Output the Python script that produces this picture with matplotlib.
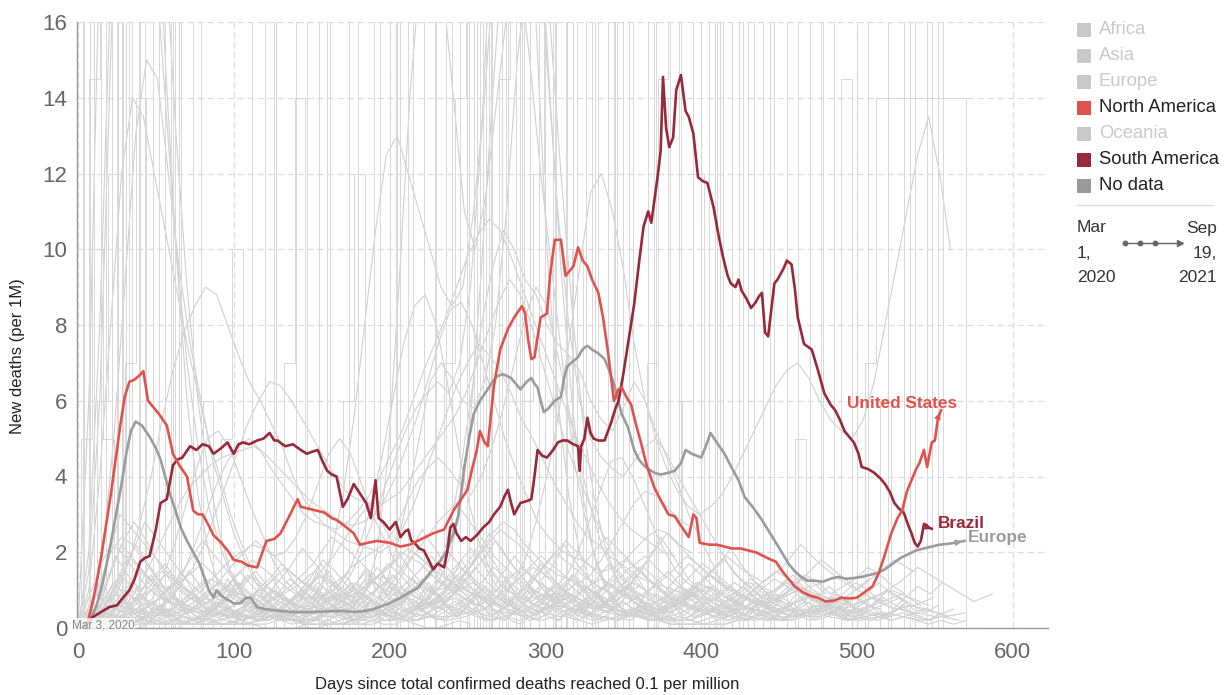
import numpy as np
import matplotlib
matplotlib.use("Agg")
import matplotlib.pyplot as plt
from matplotlib.patches import Rectangle
from matplotlib.lines import Line2D

plt.rcParams['font.family'] = ['Liberation Sans', 'DejaVu Sans']

# highlighted series
us_days = [3, 6, 9, 12, 15, 18, 21, 24, 27, 30, 33, 36, 39, 42, 45, 48, 52, 57, 61, 65, 70, 74, 77, 80, 84, 87,
           92, 96, 100, 105, 109, 115, 118, 121, 126, 130, 135, 141, 143, 148, 153, 158, 163, 166, 171, 177, 181,
           186, 192, 200, 207, 213, 218, 223, 228, 235, 241, 246, 250, 253, 256, 258, 261, 263, 265, 267, 271,
           276, 280, 285, 287, 289, 291, 293, 297, 301, 303, 306, 310, 313, 316, 318, 321, 324, 327, 330, 334,
           337, 340, 344, 347, 349, 352, 355, 358, 361, 365, 370, 375, 379, 383, 387, 392, 395, 397, 399, 405,
           410, 415, 420, 425, 430, 435, 440, 445, 448, 452, 456, 460, 465, 470, 475, 480, 485, 490, 495, 500,
           505, 510, 514, 518, 522, 526, 529, 532, 535, 538, 540, 543, 545, 548, 550, 552, 554]
us_vals = [0, 0.1, 0.6, 1.2, 1.9, 2.7, 3.5, 4.4, 5.3, 6.1, 6.5, 6.55, 6.65, 6.78, 6.0, 5.85, 5.65, 5.35, 4.6, 4.3,
           4.0, 3.1, 3.0, 3.0, 2.7, 2.45, 2.25, 2.05, 1.8, 1.75, 1.65, 1.6, 1.95, 2.3, 2.35, 2.5, 2.9, 3.4, 3.2,
           3.15, 3.1, 3.05, 2.9, 2.85, 2.7, 2.5, 2.2, 2.25, 2.3, 2.25, 2.15, 2.2, 2.3, 2.4, 2.5, 2.6, 3.1, 3.4,
           3.65, 4.2, 4.7, 5.2, 4.9, 4.8, 5.6, 6.4, 7.35, 7.9, 8.2, 8.5, 8.3, 7.6, 7.1, 7.15, 8.2, 8.3, 9.3,
           10.25, 10.25, 9.3, 9.45, 9.55, 10.05, 9.7, 9.55, 9.2, 8.85, 8.2, 7.35, 6.0, 6.3, 6.35, 6.1, 5.9, 5.4,
           4.95, 4.3, 3.7, 3.3, 3.0, 2.95, 2.7, 2.4, 3.0, 2.9, 2.25, 2.2, 2.2, 2.15, 2.1, 2.1, 2.05, 2.0, 1.9,
           1.8, 1.75, 1.5, 1.3, 1.1, 0.95, 0.85, 0.8, 0.7, 0.72, 0.8, 0.78, 0.8, 0.95, 1.1, 1.45, 1.95, 2.5, 2.9,
           3.1, 3.6, 3.9, 4.2, 4.35, 4.7, 4.25, 4.9, 4.95, 5.55, 5.75]

brazil_days = [3, 8, 14, 20, 25, 29, 33, 36, 40, 43, 46, 50, 53, 57, 61, 64, 67, 72, 76, 80, 84, 87, 92, 96, 100,
               103, 106, 110, 115, 119, 123, 126, 128, 133, 138, 143, 147, 150, 154, 157, 160, 163, 166, 168, 170,
               173, 177, 181, 185, 188, 191, 193, 196, 200, 204, 207, 210, 212, 214, 216, 219, 222, 225, 228, 231,
               235, 237, 239, 241, 243, 246, 249, 252, 256, 260, 264, 267, 271, 274, 276, 278, 280, 284, 288, 291,
               293, 295, 298, 301, 305, 308, 311, 314, 318, 321, 322, 323, 325, 327, 329, 331, 334, 338, 342, 345,
               347, 350, 353, 357, 360, 363, 366, 367, 368, 370, 372, 374, 375.5, 377.5, 379.5, 382, 384, 387, 390,
               392, 395, 398, 401, 404, 408, 411, 414, 417, 419, 422, 424, 426, 429, 432, 435, 437, 439, 441, 443,
               445, 447, 449, 451, 453, 455, 458, 460, 462, 466, 471, 475, 479, 483, 486, 489, 492, 495, 498, 501,
               503, 507, 511, 515, 518, 521, 524, 527, 530, 533, 535, 537, 539, 541, 543, 546, 548]
brazil_vals = [0, 0.25, 0.4, 0.55, 0.6, 0.8, 1.0, 1.25, 1.75, 1.85, 1.9, 2.6, 3.3, 3.4, 4.3, 4.45, 4.5, 4.8, 4.7,
               4.85, 4.8, 4.6, 4.75, 4.9, 4.6, 4.85, 4.9, 4.85, 4.95, 5.0, 5.15, 4.95, 4.95, 4.8, 4.85, 4.7, 4.6,
               4.65, 4.7, 4.4, 4.15, 4.05, 4.0, 3.6, 3.2, 3.4, 3.8, 3.55, 3.3, 2.9, 3.9, 2.9, 2.8, 2.6, 2.8, 2.4,
               2.55, 2.6, 2.3, 2.25, 2.1, 2.05, 1.8, 1.55, 1.7, 1.6, 2.0, 2.65, 2.75, 2.5, 2.3, 2.4, 2.3, 2.45,
               2.65, 2.8, 3.0, 3.2, 3.5, 3.65, 3.3, 3.0, 3.3, 3.35, 3.4, 4.0, 4.7, 4.55, 4.5, 4.7, 4.9, 4.95, 4.95,
               4.85, 4.8, 4.15, 4.8, 5.0, 5.55, 5.15, 5.0, 4.95, 4.95, 5.4, 5.8, 6.0, 6.7, 7.5, 8.55, 9.6, 10.6,
               11.0, 10.85, 10.7, 11.3, 11.9, 12.6, 14.55, 13.2, 12.7, 12.95, 14.2, 14.6, 13.65, 13.5, 13.05, 11.9,
               11.8, 11.75, 11.1, 10.4, 9.8, 9.3, 9.1, 9.0, 9.2, 8.9, 8.7, 8.45, 8.6, 8.75, 8.85, 7.8, 7.7, 8.4,
               9.1, 9.2, 9.35, 9.5, 9.7, 9.6, 9.0, 8.2, 7.5, 7.35, 6.8, 6.2, 5.9, 5.75, 5.5, 5.2, 5.05, 4.9, 4.6,
               4.25, 4.2, 4.1, 3.95, 3.8, 3.6, 3.3, 3.15, 3.05, 2.7, 2.5, 2.25, 2.15, 2.3, 2.75, 2.65, 2.62]

europe_days = [3, 8, 12, 16, 20, 24, 28, 31, 34, 37, 41, 46, 50, 53, 56, 59, 63, 66, 70, 74, 78, 81, 84, 87, 89,
               92, 96, 100, 104, 108, 111, 115, 120, 130, 138, 150, 160, 170, 177, 184, 190, 195, 200, 207, 213,
               218, 222, 228, 233, 237, 241, 244, 248, 251, 254, 258, 263, 266, 269, 273, 278, 281, 284, 288, 291,
               293, 295, 297, 299, 302, 306, 310, 312, 314, 318, 321, 323, 325, 327, 330, 334, 338, 341, 344, 349,
               353, 357, 360, 363, 366, 370, 374, 379, 383, 387, 390, 394, 397, 400, 403, 406, 410, 415, 420, 424,
               428, 433, 439, 445, 451, 456, 460, 464, 468, 473, 478, 483, 488, 493, 498, 503, 508, 513, 518, 523,
               528, 533, 538, 543, 548, 553, 558, 563, 569]
europe_vals = [0, 0.2, 0.6, 1.2, 2.0, 2.9, 3.8, 4.6, 5.2, 5.45, 5.35, 5.05, 4.75, 4.45, 4.0, 3.55, 3.05, 2.65, 2.3,
               2.0, 1.7, 1.35, 1.0, 0.8, 1.0, 0.85, 0.75, 0.65, 0.65, 0.8, 0.8, 0.55, 0.5, 0.45, 0.42, 0.42, 0.44,
               0.45, 0.42, 0.45, 0.5, 0.58, 0.65, 0.8, 0.95, 1.05, 1.25, 1.55, 1.8, 2.05, 2.5, 2.95, 4.25, 5.0,
               5.65, 6.0, 6.3, 6.5, 6.65, 6.7, 6.6, 6.45, 6.3, 6.5, 6.6, 6.45, 6.35, 6.0, 5.7, 5.8, 6.0, 6.1, 6.6,
               6.9, 7.05, 7.15, 7.3, 7.4, 7.45, 7.35, 7.25, 7.1, 6.8, 6.45, 5.65, 5.3, 4.7, 4.45, 4.3, 4.2, 4.1,
               4.05, 4.1, 4.15, 4.35, 4.7, 4.6, 4.55, 4.5, 4.8, 5.15, 4.9, 4.6, 4.2, 3.9, 3.45, 3.2, 2.85, 2.45,
               2.05, 1.7, 1.5, 1.35, 1.25, 1.25, 1.22, 1.3, 1.35, 1.3, 1.32, 1.35, 1.4, 1.45, 1.55, 1.7, 1.85,
               1.95, 2.05, 2.1, 2.15, 2.2, 2.22, 2.25, 2.3]

# other countries, low lines sampled every 12 days (values per 1M)
BAND_STEP = 12
band_starts = [0, 4, 2, 7, 1, 5, 3, 9, 6, 10, 8, 11]
band_lines = [
    [0.0, 0.4, 1.1, 0.8, 0.5, 0.3, 0.4, 0.7, 1.0, 0.6, 0.4, 0.5, 0.9, 1.4, 1.1, 0.7, 0.5, 0.8, 1.2, 0.9, 1.5, 2.1,
     1.6, 1.0, 0.7, 0.5, 0.6, 1.0, 1.3, 0.9, 0.6, 0.4, 0.7, 1.1, 0.8, 0.5, 0.3, 0.4, 0.6, 0.9, 0.7, 0.5, 0.4, 0.6,
     0.8, 0.5, 0.4],
    [0.0, 0.9, 2.2, 1.6, 1.0, 0.7, 0.5, 0.8, 1.3, 1.8, 1.4, 1.0, 0.7, 0.4, 0.6, 1.0, 1.5, 2.0, 1.7, 1.2, 0.9, 0.6,
     0.8, 1.2, 1.6, 1.3, 0.9, 0.6, 1.0, 1.5, 1.9, 1.4, 1.0, 0.7, 0.5, 0.7, 1.1, 1.5, 1.2, 0.8, 0.6, 0.9, 1.3],
    [0.0, 0.1, 0.3, 0.2, 0.4, 0.2, 0.1, 0.3, 0.5, 0.3, 0.2, 0.4, 0.6, 0.5, 0.3, 0.2, 0.4, 0.7, 0.5, 0.3, 0.6, 0.9,
     0.7, 0.4, 0.3, 0.5, 0.8, 1.1, 0.8, 0.5, 0.3, 0.2, 0.4, 0.6, 0.4, 0.3, 0.2, 0.3, 0.5, 0.4, 0.3, 0.2, 0.3, 0.4,
     0.3, 0.2, 0.3, 0.2],
    [0.0, 0.5, 1.6, 2.8, 2.1, 1.4, 0.9, 0.6, 0.4, 0.5, 0.8, 1.2, 1.7, 2.4, 2.0, 1.5, 1.1, 0.8, 0.6, 0.9, 1.4, 2.0,
     2.6, 2.2, 1.6, 1.1, 0.8, 0.6, 0.5, 0.7, 1.0, 1.4, 1.9, 1.5, 1.1, 0.8, 0.6, 0.5, 0.7, 0.9, 0.7, 0.5],
    [0.0, 0.2, 0.6, 0.4, 0.3, 0.5, 0.9, 1.3, 1.0, 0.8, 1.1, 1.6, 1.2, 0.9, 0.7, 1.0, 1.4, 1.1, 0.8, 0.6, 0.9, 1.2,
     0.9, 0.7, 1.1, 1.7, 2.3, 1.8, 1.3, 0.9, 0.6, 0.5, 0.8, 1.2, 1.0, 0.7, 0.5, 0.4, 0.6, 0.8, 0.6, 0.4, 0.5, 0.7,
     0.9, 0.6],
    [0.0, 0.3, 0.2, 0.5, 0.8, 0.6, 0.3, 0.2, 0.3, 0.6, 1.0, 0.7, 0.4, 0.3, 0.5, 0.4, 0.2, 0.3, 0.6, 1.1, 1.6, 1.2,
     0.8, 0.5, 0.4, 0.6, 0.9, 0.6, 0.4, 0.3, 0.5, 0.8, 1.2, 1.7, 1.3, 0.9, 0.6, 0.4, 0.3, 0.5, 0.4, 0.3, 0.2, 0.4,
     0.6, 0.5, 0.3, 0.4],
    [0.0, 1.2, 3.0, 2.4, 1.8, 1.2, 0.8, 0.6, 0.9, 1.4, 1.0, 0.7, 0.5, 0.4, 0.6, 0.8, 1.1, 1.5, 2.1, 2.8, 3.3, 2.6,
     1.9, 1.4, 1.0, 0.8, 1.2, 1.8, 2.4, 1.9, 1.4, 1.0, 0.7, 0.5, 0.4, 0.6, 0.9, 1.3, 1.0, 0.8, 0.6],
    [0.0, 0.2, 0.4, 0.7, 0.5, 0.3, 0.2, 0.1, 0.2, 0.4, 0.3, 0.2, 0.4, 0.8, 1.2, 0.9, 0.6, 0.4, 0.3, 0.2, 0.3, 0.5,
     0.9, 1.4, 1.9, 1.5, 1.1, 0.8, 0.5, 0.3, 0.4, 0.7, 1.0, 1.4, 1.1, 0.8, 0.6, 0.9, 1.3, 1.8, 1.4, 1.0, 0.7, 0.5,
     0.6, 0.8],
    [0.0, 0.6, 0.4, 0.9, 1.5, 1.1, 0.8, 1.2, 1.8, 2.3, 1.9, 1.4, 1.0, 0.7, 0.9, 1.3, 1.0, 0.7, 0.5, 0.8, 1.1, 0.8,
     0.6, 0.9, 1.4, 2.0, 1.6, 1.2, 0.9, 1.3, 1.8, 2.5, 2.0, 1.5, 1.1, 0.8, 0.6, 0.8, 1.1, 0.9, 0.7, 0.6, 0.8, 1.0,
     0.8, 0.6],
    [0.0, 0.1, 0.2, 0.1, 0.3, 0.5, 0.4, 0.2, 0.1, 0.2, 0.4, 0.3, 0.5, 0.9, 0.7, 0.4, 0.3, 0.5, 0.8, 0.6, 0.4, 0.2,
     0.3, 0.6, 0.4, 0.3, 0.5, 0.7, 0.5, 0.3, 0.4, 0.6, 0.9, 0.7, 0.5, 0.3, 0.2, 0.3, 0.5, 0.4, 0.3, 0.2, 0.3, 0.5,
     0.4, 0.3, 0.5],
    [0.0, 0.8, 1.9, 1.4, 1.0, 1.3, 1.7, 1.2, 0.9, 0.6, 0.8, 1.1, 1.5, 1.1, 0.8, 1.2, 1.6, 2.1, 1.7, 1.3, 1.0, 0.8,
     1.1, 1.6, 1.2, 0.9, 0.7, 0.5, 0.8, 1.2, 0.9, 0.6, 0.9, 1.4, 1.9, 1.5, 1.2, 1.6, 2.2, 1.7, 1.3, 1.0, 1.4, 1.8,
     1.5],
    [0.0, 0.3, 0.7, 1.0, 0.7, 0.5, 0.3, 0.5, 0.7, 0.5, 0.3, 0.4, 0.6, 0.9, 0.6, 0.4, 0.6, 1.0, 1.4, 1.0, 0.7, 0.5,
     0.4, 0.7, 1.1, 0.8, 0.5, 0.3, 0.2, 0.4, 0.7, 1.0, 0.7, 0.5, 0.4, 0.6, 0.8, 1.2, 0.9, 0.6, 0.5, 0.7, 0.9, 1.2,
     1.6, 1.3, 1.0, 0.7, 0.9],
]

# more low lines, every 8 days, in tenths of a death per 1M
TENTH_STEP = 8
tenth_starts = [0, 3, 1, 5, 2, 9, 4, 6, 0, 10, 8, 11, 2, 7, 5, 3]
tenth_lines = [
    [0, 2, 5, 9, 6, 4, 7, 3, 5, 8, 6, 4, 3, 5, 7, 4, 2, 4, 6, 9, 7, 5, 3, 6, 8, 11, 9, 6, 4, 7, 10, 13, 9, 7, 5, 8,
     6, 4, 6, 9, 12, 8, 6, 9, 13, 16, 12, 9, 7, 5, 8, 11, 8, 6, 4, 6, 9, 7, 5, 3, 5, 8, 6, 4, 7, 10, 8, 5, 4, 6],
    [0, 4, 9, 14, 11, 8, 12, 15, 10, 7, 9, 12, 8, 6, 10, 13, 17, 12, 9, 7, 11, 14, 10, 8, 6, 9, 12, 15, 19, 14, 11,
     8, 12, 16, 13, 10, 7, 9, 12, 9, 6, 8, 11, 14, 10, 8, 12, 15, 11, 9, 13, 17, 21, 16, 12, 9, 11, 14, 10, 8, 6, 9,
     12, 10, 7, 5, 8, 11, 9, 12],
    [0, 1, 3, 2, 1, 2, 4, 3, 1, 2, 3, 5, 3, 2, 4, 6, 4, 2, 1, 3, 5, 7, 5, 3, 2, 4, 3, 2, 4, 6, 8, 6, 4, 3, 5, 7, 10,
     8, 5, 3, 2, 4, 6, 4, 3, 5, 7, 5, 3, 2, 4, 3, 2, 3, 5, 4, 2, 3, 4, 2, 3, 5, 4, 3, 2, 3, 4, 3, 2, 3],
    [0, 3, 8, 15, 22, 17, 12, 8, 6, 4, 5, 7, 10, 14, 11, 8, 6, 9, 13, 18, 15, 11, 8, 6, 9, 14, 20, 26, 21, 16, 12,
     9, 7, 10, 14, 11, 8, 6, 5, 7, 10, 13, 17, 14, 10, 8, 6, 5, 7, 9, 6, 4, 5, 8, 11, 8, 6, 4, 3, 5, 7, 5, 4, 6, 8],
    [0, 2, 4, 3, 5, 8, 6, 4, 7, 10, 13, 9, 7, 11, 15, 11, 8, 6, 9, 12, 9, 7, 5, 8, 11, 14, 10, 8, 6, 9, 13, 17, 22,
     18, 13, 9, 7, 5, 8, 12, 9, 6, 4, 6, 9, 7, 5, 8, 11, 9, 6, 4, 3, 5, 7, 9, 6, 4, 6, 8, 11, 8, 6, 9, 12, 9, 7],
    [0, 1, 2, 4, 3, 2, 1, 3, 5, 8, 6, 4, 2, 3, 5, 3, 2, 1, 2, 4, 7, 11, 15, 11, 8, 5, 3, 4, 6, 9, 6, 4, 3, 5, 8, 12,
     17, 13, 9, 6, 4, 3, 2, 4, 6, 4, 3, 2, 3, 5, 4, 2, 3, 5, 7, 5, 3, 4, 6, 5, 3, 2, 3, 4, 3],
    [0, 6, 14, 22, 28, 23, 17, 12, 9, 7, 5, 6, 9, 7, 5, 4, 6, 8, 11, 15, 19, 24, 29, 33, 27, 21, 16, 12, 9, 7, 10,
     14, 18, 23, 18, 14, 10, 8, 6, 5, 7, 9, 12, 10, 8, 6, 5, 4, 6, 8, 11, 9, 7, 5, 6, 8, 7, 5, 4, 6, 5],
    [0, 1, 2, 3, 5, 4, 2, 1, 2, 3, 2, 1, 2, 4, 7, 10, 8, 5, 3, 2, 3, 2, 1, 2, 4, 6, 9, 13, 17, 20, 16, 12, 9, 6, 4,
     3, 5, 8, 11, 14, 11, 8, 6, 9, 13, 18, 24, 19, 14, 10, 7, 5, 6, 8, 6, 4, 5, 7, 9, 7, 5, 4, 6, 8, 7],
    [0, 5, 3, 7, 11, 15, 12, 9, 13, 18, 23, 19, 15, 11, 8, 6, 9, 13, 10, 7, 5, 8, 11, 8, 6, 9, 14, 20, 17, 13, 10,
     14, 19, 25, 21, 16, 12, 9, 7, 9, 12, 10, 8, 7, 9, 11, 9, 7, 6, 8, 10, 8, 6, 9, 12, 9, 7, 10, 13, 10, 8],
    [0, 1, 2, 1, 3, 5, 4, 2, 1, 2, 4, 3, 5, 9, 7, 4, 3, 5, 8, 6, 4, 2, 3, 6, 4, 3, 5, 7, 5, 3, 4, 6, 9, 7, 5, 3, 2,
     3, 5, 4, 3, 2, 3, 5, 4, 3, 5, 7, 5, 4, 3, 4, 6, 5, 3, 2, 3, 4, 6, 4, 3, 2, 4, 3, 2, 3, 4, 5],
    [0, 8, 19, 14, 10, 13, 17, 12, 9, 6, 8, 11, 15, 11, 8, 12, 16, 21, 17, 13, 10, 8, 11, 16, 12, 9, 7, 5, 8, 12, 9,
     6, 9, 14, 19, 15, 12, 16, 22, 17, 13, 10, 14, 18, 15, 12, 9, 13, 17, 14, 11, 8, 10, 13, 10, 8, 11, 14, 12, 9],
    [0, 3, 7, 10, 7, 5, 3, 5, 7, 5, 3, 4, 6, 9, 6, 4, 6, 10, 14, 10, 7, 5, 4, 7, 11, 8, 5, 3, 2, 4, 7, 10, 7, 5, 4,
     6, 8, 12, 9, 6, 5, 7, 9, 12, 16, 13, 10, 7, 9, 11, 8, 6, 9, 12, 10, 8, 11, 14, 12, 9, 11, 13, 16, 14, 11, 9],
    [0, 2, 1, 3, 2, 4, 2, 1, 3, 2, 1, 2, 3, 2, 4, 3, 2, 1, 2, 3, 5, 3, 2, 4, 6, 4, 3, 2, 3, 5, 7, 5, 3, 2, 3, 4, 2,
     3, 5, 4, 2, 1, 2, 3, 2, 4, 3, 2, 3, 2, 1, 2, 3, 2, 3, 4, 3, 2, 3, 4, 5, 4, 3, 4, 3, 2, 3, 2, 1, 2, 1, 2],
    [0, 4, 10, 7, 4, 6, 9, 13, 10, 7, 5, 8, 12, 9, 6, 4, 7, 10, 8, 5, 4, 6, 9, 13, 17, 14, 10, 7, 5, 8, 12, 16, 12,
     9, 6, 4, 6, 9, 7, 5, 3, 5, 8, 11, 8, 6, 4, 6, 9, 12, 15, 18, 14, 11, 8, 10, 13, 10, 8, 6, 9, 7],
    [0, 2, 6, 4, 8, 12, 9, 6, 4, 6, 9, 7, 4, 3, 5, 8, 6, 4, 7, 11, 8, 5, 3, 5, 4, 6, 9, 13, 9, 6, 4, 7, 11, 8, 6, 4,
     6, 9, 7, 5, 4, 3, 5, 7, 5, 4, 6, 8, 6, 5, 7, 9, 12, 10, 7, 5, 8, 10, 8, 6, 9, 7, 5, 6, 8, 6, 4, 3],
    [0, 1, 3, 6, 4, 2, 1, 2, 3, 2, 4, 6, 4, 3, 2, 3, 5, 8, 12, 9, 6, 4, 3, 5, 4, 3, 2, 4, 7, 10, 14, 11, 8, 5, 3, 2,
     3, 5, 7, 5, 3, 2, 3, 2, 4, 6, 9, 7, 5, 3, 4, 6, 8, 11, 8, 6, 4, 5, 7, 5, 4, 6, 8, 6, 5],
]

# low, noisy lines every 6 days, in tenths of a death per 1M
NOISY_STEP = 6
noisy_starts = [1, 4, 2, 5, 3, 0]
noisy_lines = [
    [0, 3, 6, 4, 2, 5, 8, 5, 3, 6, 9, 6, 4, 2, 4, 7, 5, 3, 6, 10, 7, 4, 2, 5, 8, 6, 3, 5, 9, 12, 8, 5, 3, 6, 4, 2,
     4, 7, 10, 7, 4, 6, 9, 6, 3, 5, 8, 5, 3, 2, 4, 6, 9, 6, 4, 7, 11, 8, 5, 3, 6, 4, 2, 5, 8, 6, 4, 7, 5, 3, 6, 9,
     7, 4, 2, 4, 6, 3, 5, 8, 6, 4, 3, 5, 7, 5, 3, 4, 6, 4, 3, 2, 4, 3],
    [0, 2, 1, 4, 7, 5, 2, 4, 8, 11, 7, 4, 6, 3, 5, 9, 13, 9, 6, 3, 5, 8, 5, 2, 4, 7, 10, 7, 4, 2, 5, 9, 14, 10, 6,
     4, 7, 11, 8, 5, 3, 6, 10, 7, 4, 2, 4, 6, 9, 12, 8, 5, 3, 5, 8, 6, 4, 7, 10, 14, 10, 7, 4, 6, 3, 5, 8, 11, 8, 5,
     3, 6, 9, 6, 4, 2, 5, 7, 4, 6, 8, 5, 3, 4, 6, 5, 3, 5, 7],
    [0, 1, 3, 1, 2, 4, 2, 1, 3, 5, 3, 1, 2, 4, 6, 4, 2, 1, 3, 2, 4, 6, 8, 5, 3, 2, 4, 3, 1, 2, 4, 7, 5, 3, 2, 4, 6,
     4, 2, 3, 5, 8, 6, 3, 2, 4, 2, 1, 3, 5, 3, 2, 4, 6, 4, 2, 3, 5, 7, 5, 3, 2, 4, 3, 2, 3, 5, 4, 2, 3, 4, 2, 3, 5,
     3, 2, 4, 3, 2, 3, 4, 3, 2, 3],
    [0, 4, 8, 12, 9, 6, 10, 14, 10, 7, 11, 15, 12, 8, 5, 8, 12, 9, 6, 10, 13, 9, 6, 4, 7, 11, 15, 11, 8, 12, 16, 12,
     9, 6, 9, 13, 10, 7, 5, 8, 12, 16, 20, 15, 11, 8, 6, 9, 13, 10, 7, 10, 14, 11, 8, 5, 7, 10, 8, 6, 9, 12, 9, 6, 8,
     11, 9, 7, 10, 8, 6, 9, 7, 5, 8, 6, 9, 7],
    [0, 2, 5, 3, 6, 9, 6, 3, 2, 4, 7, 4, 2, 3, 5, 3, 6, 8, 5, 3, 2, 4, 2, 5, 8, 11, 8, 5, 3, 6, 9, 7, 4, 2, 3, 5, 8,
     12, 9, 6, 3, 5, 8, 5, 3, 2, 4, 7, 10, 7, 4, 2, 5, 3, 6, 9, 6, 4, 3, 5, 7, 4, 2, 4, 6, 9, 7, 4, 5, 3, 4, 6, 4, 3,
     5, 4, 3],
    [0, 5, 10, 6, 3, 7, 12, 8, 4, 6, 10, 15, 11, 7, 4, 8, 13, 9, 5, 3, 6, 10, 7, 4, 8, 12, 17, 13, 9, 6, 10, 14, 10,
     6, 4, 7, 11, 8, 5, 9, 13, 18, 14, 10, 6, 9, 12, 8, 5, 3, 6, 9, 6, 4, 7, 10, 7, 5, 8, 11, 8, 6, 4, 6, 9, 7, 5, 7,
     9, 6, 4, 6, 5, 7, 5],
]

# countries with big waves, weekly, in tenths of a death per 1M
WAVE_STEP = 7
wave_starts = [0, 0, 2, 10, 5, 15, 30, 20, 25, 0, 0, 140, 0, 40, 0]
wave_lines = [
    [0, 15, 60, 150, 240, 290, 270, 230, 180, 130, 90, 60, 40, 25, 15, 10, 6, 4, 3, 2, 2, 1, 1, 2, 1, 2, 2, 3, 4, 3,
     5, 6, 8, 12, 18, 30, 55, 95, 140, 180, 200, 210, 190, 150, 110, 80, 60, 50, 45, 42, 40, 44, 48, 50, 46, 40, 35,
     30, 25, 20, 15, 12, 10, 8, 6, 5, 4, 3, 3, 4, 3, 4, 5, 4, 3],
    [0, 10, 40, 80, 120, 140, 135, 120, 105, 90, 75, 62, 50, 40, 30, 22, 15, 10, 7, 5, 3, 2, 2, 1, 1, 1, 1, 1, 2, 2,
     3, 5, 8, 14, 25, 40, 60, 80, 95, 105, 100, 92, 88, 80, 75, 72, 68, 60, 55, 52, 58, 65, 60, 52, 45, 38, 30, 24,
     18, 12, 8, 6, 4, 3, 2, 2, 3, 4, 5, 6, 5, 6, 7],
    [0, 5, 20, 50, 90, 130, 150, 145, 120, 95, 75, 60, 45, 35, 25, 18, 12, 8, 5, 3, 2, 1, 1, 1, 1, 2, 3, 6, 12, 22,
     35, 50, 65, 70, 66, 60, 58, 65, 80, 110, 150, 175, 180, 160, 120, 85, 55, 35, 22, 14, 9, 6, 4, 3, 2, 1, 1, 1,
     1, 1, 2, 3, 5, 7, 8, 9, 10, 11, 12],
    [1, 2, 3, 3, 2, 2, 1, 1, 1, 1, 1, 1, 1, 1, 1, 2, 2, 3, 2, 2, 2, 3, 3, 4, 6, 10, 20, 45, 90, 140, 175, 190, 170,
     140, 110, 100, 115, 140, 165, 175, 150, 120, 95, 70, 45, 30, 18, 10, 6, 4, 3, 2, 2, 1, 1, 1, 1, 1, 1, 2, 2, 3,
     2],
    [0, 2, 5, 10, 18, 28, 40, 55, 68, 78, 85, 90, 88, 80, 72, 65, 60, 54, 48, 40, 34, 30, 27, 25, 23, 22, 21, 20,
     22, 26, 32, 40, 48, 56, 64, 70, 75, 72, 68, 62, 55, 50, 44, 38, 33, 28, 24, 22, 19, 17, 15, 13, 12, 11, 10, 9,
     8, 8, 7],
    [0, 2, 5, 9, 14, 20, 26, 32, 37, 40, 43, 45, 46, 47, 48, 46, 43, 40, 37, 34, 32, 30, 28, 27, 28, 30, 34, 40, 48,
     56, 66, 76, 84, 86, 80, 70, 60, 50, 42, 35, 28, 24, 21, 19, 18, 16, 15, 16, 18, 21, 24, 26, 25, 22, 20],
    [0, 1, 1, 1, 2, 2, 1, 1, 1, 1, 1, 1, 1, 1, 2, 2, 3, 5, 10, 20, 35, 55, 80, 105, 125, 130, 120, 110, 100, 90, 85,
     90, 110, 140, 180, 220, 250, 235, 190, 140, 95, 60, 35, 20, 12, 7, 4, 3, 2, 2, 1, 1, 1, 2, 3, 4],
    [0, 1, 2, 4, 8, 14, 22, 32, 42, 50, 52, 48, 40, 32, 25, 18, 13, 10, 8, 8, 9, 11, 15, 22, 32, 45, 60, 75, 85, 88,
     80, 65, 48, 33, 22, 15, 11, 9, 8, 8, 9, 11, 14, 20, 28, 36, 44, 45, 40, 33, 26, 20, 15, 12, 10],
    [0, 1, 2, 4, 6, 8, 12, 16, 22, 30, 38, 46, 54, 60, 65, 64, 60, 55, 50, 45, 40, 36, 34, 33, 32, 34, 36, 40, 44,
     48, 52, 56, 62, 70, 78, 86, 92, 88, 80, 70, 60, 50, 42, 35, 28, 22, 17, 14, 11],
    [0, 8, 16, 22, 20, 16, 12, 9, 7, 6, 7, 9, 12, 15, 18, 20, 22, 21, 19, 20, 24, 30, 38, 46, 50, 46, 38, 30, 24, 18,
     14, 12, 10, 10, 11, 13, 16, 20, 25, 28, 26, 22, 19, 16, 14, 13, 12, 14, 18, 23, 28, 33, 36, 35, 32, 29, 27],
    [0, 5, 12, 20, 24, 22, 18, 14, 10, 8, 6, 5, 4, 4, 3, 3, 3, 3, 3, 4, 4, 5, 6, 8, 10, 14, 20, 28, 36, 44, 52, 58,
     62, 65, 62, 70, 90, 130, 190, 250, 280, 230, 160, 100, 60, 35, 20, 12, 8, 5, 4, 3, 3, 3, 2, 2, 2, 3, 4, 6, 8, 9],
    [0, 1, 1, 1, 1, 1, 2, 2, 1, 1, 2, 2, 3, 3, 3, 4, 4, 5, 6, 8, 12, 18, 28, 40, 55, 75, 95, 115, 120, 110, 95, 75,
     60, 50, 42, 36, 32, 30, 32, 35, 40, 46, 52, 58, 64, 68, 70, 66, 60, 55, 52, 50, 55, 65, 80, 95, 110, 125, 135,
     120, 100],
    [0, 60, 180, 330, 400, 350, 280, 210, 150, 100, 60, 35, 20, 10, 5, 2, 1, 0, 0, 0, 0, 0, 0, 1, 2, 3, 4, 5, 4, 3,
     2, 1, 0, 0, 1, 2, 1],
    [0, 2, 5, 9, 15, 22, 30, 38, 44, 48, 50, 47, 42, 38, 34, 30, 28, 27, 26, 28, 31, 35, 40, 46, 52, 60, 68, 75, 82,
     90, 98, 104, 108, 105, 98, 90, 82, 74, 66, 58, 50, 44, 38, 33, 29, 26, 24, 22, 20, 19],
    [0, 20, 80, 170, 230, 250, 220, 180, 140, 100, 70, 48, 32, 22, 14, 9, 6, 4, 3, 2, 2, 3, 5, 8, 12, 16, 18, 20, 22,
     26, 32, 38, 42, 45, 42, 38, 35, 40, 48, 58, 70, 82, 90, 85, 72, 58, 44, 32, 22, 15, 10, 7, 5, 4, 4, 5, 8, 12,
     14, 12],
]

# very small countries: weekly steps (change days, values per 1M)
spike_lines = [
    ([0, 10, 17, 24, 31, 250, 257, 264, 380, 387, 560], [0, 20, 40, 20, 0, 24, 48, 0, 20, 0, 0]),
    ([0, 4, 11, 18, 25, 120, 127, 134, 300, 307, 470, 477, 540], [0, 33, 66, 33, 0, 33, 0, 0, 33, 0, 33, 0, 0]),
    ([0, 22, 29, 36, 43, 200, 207, 214, 330, 337, 344, 520], [0, 22, 44, 66, 0, 22, 0, 0, 22, 44, 0, 0]),
    ([0, 15, 22, 29, 160, 167, 174, 275, 282, 289, 296, 420, 427, 575], [0, 19, 38, 0, 19, 38, 0, 19, 38, 57, 0, 19, 0, 0]),
    ([0, 35, 42, 49, 56, 230, 237, 244, 251, 356, 363, 370, 555], [0, 17, 34, 17, 0, 17, 34, 17, 0, 17, 34, 0, 0]),
    ([0, 2, 9, 16, 23, 92, 99, 106, 310, 317, 324, 460, 467, 560], [0, 5, 10, 5, 0, 5, 10, 0, 5, 10, 0, 5, 0, 0]),
    ([0, 48, 55, 62, 260, 267, 274, 281, 395, 402, 409, 530, 537, 585], [0, 25, 50, 0, 25, 50, 75, 0, 25, 50, 0, 25, 0, 0]),
    ([0, 26, 33, 40, 190, 197, 204, 290, 297, 304, 311, 318, 440, 447, 560],
     [0, 18, 36, 0, 18, 36, 0, 18, 36, 54, 36, 0, 18, 0, 0]),
    ([0, 60, 67, 74, 140, 147, 154, 240, 247, 254, 340, 347, 354, 500, 507, 590],
     [0, 22, 44, 0, 22, 0, 0, 22, 44, 0, 22, 44, 0, 22, 0, 0]),
    ([0, 7, 14, 21, 28, 35, 270, 277, 284, 372, 379, 386, 490, 497, 560],
     [0, 14.5, 29, 43, 29, 0, 14.5, 29, 0, 14.5, 29, 0, 14.5, 0, 0]),
    ([0, 180, 187, 194, 215, 222, 229, 305, 312, 319, 326, 400, 407, 414, 548, 555, 570],
     [0, 21, 42, 0, 21, 42, 0, 21, 42, 63, 0, 21, 42, 0, 21, 0, 0]),
    ([0, 52, 59, 66, 112, 119, 126, 258, 265, 272, 279, 286, 420, 427, 434, 580],
     [0, 27, 54, 0, 27, 54, 0, 27, 54, 81, 54, 0, 27, 54, 0, 0]),
    ([0, 18, 25, 32, 39, 222, 229, 236, 345, 352, 359, 366, 478, 485, 540],
     [0, 30, 60, 90, 0, 30, 60, 0, 30, 60, 30, 0, 30, 0, 0]),
    ([0, 65, 72, 79, 245, 252, 259, 266, 320, 327, 334, 405, 412, 560],
     [0, 26, 52, 0, 26, 52, 26, 0, 26, 52, 0, 26, 0, 0]),
    ([0, 12, 19, 26, 33, 80, 87, 94, 170, 177, 184, 285, 292, 299, 306, 388, 395, 402, 515, 522, 575],
     [0, 6, 12, 18, 0, 6, 0, 0, 6, 12, 0, 6, 12, 18, 0, 6, 12, 0, 6, 0, 0]),
    ([0, 40, 47, 54, 61, 205, 212, 219, 300, 307, 314, 430, 437, 444, 560],
     [0, 19, 38, 19, 0, 19, 0, 0, 19, 38, 0, 19, 38, 0, 0]),
    ([0, 30, 37, 44, 132, 139, 146, 235, 242, 249, 256, 365, 372, 379, 505, 512, 570],
     [0, 7, 14, 0, 7, 14, 0, 7, 14, 21, 0, 7, 14, 0, 7, 14, 0]),
    ([0, 3, 10, 17, 24, 31, 155, 162, 169, 265, 272, 279, 350, 357, 364, 371, 455, 462, 565],
     [0, 45, 90, 45, 20, 0, 45, 0, 0, 45, 0, 0, 45, 90, 45, 0, 45, 0, 0]),
    ([0, 8, 15, 22, 285, 292, 299, 306, 313, 332, 339, 346, 520, 527, 534, 560],
     [0, 28, 56, 0, 28, 56, 84, 56, 0, 28, 56, 0, 28, 56, 0, 0]),
    ([0, 28, 35, 42, 262, 269, 276, 318, 325, 332, 410, 417, 424, 545, 552, 580],
     [0, 24, 0, 0, 24, 48, 0, 24, 48, 0, 24, 48, 0, 24, 0, 0]),
]

legend_names = ['Africa', 'Asia', 'Europe', 'North America', 'Oceania', 'South America', 'No data']
legend_colors = ['#c9c9c9', '#c9c9c9', '#c9c9c9', '#e0534d', '#c9c9c9', '#97293a', '#9a9a9a']
legend_text_colors = ['#c9c9c9', '#c9c9c9', '#c9c9c9', '#222222', '#c9c9c9', '#222222', '#222222']

US_COLOR = '#e0534d'
BR_COLOR = '#97293a'
EU_COLOR = '#9c9c9c'
BG_COLOR = '#d0d0d0'

W, H = 1224, 695


def fx(px):
    return px / W


def fy(py):
    return 1 - py / H


fig = plt.figure(figsize=(W / 100, H / 100), dpi=100)
ax = fig.add_axes([fx(77), fy(628), fx(1048) - fx(77), fy(22) - fy(628)])

# background countries
for start, vals in zip(band_starts, band_lines):
    d = start + BAND_STEP * np.arange(len(vals))
    ax.plot(d, vals, color=BG_COLOR, lw=0.8, zorder=2)
for start, vals in zip(tenth_starts, tenth_lines):
    d = start + TENTH_STEP * np.arange(len(vals))
    ax.plot(d, np.array(vals) / 10, color=BG_COLOR, lw=0.8, zorder=2)
for start, vals in zip(noisy_starts, noisy_lines):
    d = start + NOISY_STEP * np.arange(len(vals))
    ax.plot(d, np.array(vals) / 10, color=BG_COLOR, lw=0.8, zorder=2)
for start, vals in zip(wave_starts, wave_lines):
    d = start + WAVE_STEP * np.arange(len(vals))
    ax.plot(d, np.array(vals) / 10, color=BG_COLOR, lw=0.8, zorder=2)
for d, v in spike_lines:
    ax.plot(d, v, color='#d8d8d8', lw=0.7, drawstyle='steps-post', zorder=2)

# highlighted
for days, vals, col in [(europe_days, europe_vals, EU_COLOR),
                        (brazil_days, brazil_vals, BR_COLOR),
                        (us_days, us_vals, US_COLOR)]:
    ax.plot(days, vals, color=col, lw=1.9, zorder=5, solid_joinstyle='round')
    ax.annotate('', xy=(days[-1], vals[-1]), xytext=(days[-2], vals[-2]),
                arrowprops=dict(arrowstyle='-|>', color=col, lw=1.0, mutation_scale=9), zorder=6)

ax.text(564, 5.94, 'United States', color=US_COLOR, fontsize=12.4, fontweight='bold', ha='right', va='center')
ax.text(552, 2.77, 'Brazil', color=BR_COLOR, fontsize=12.4, fontweight='bold', ha='left', va='center')
ax.text(571, 2.4, 'Europe', color=EU_COLOR, fontsize=12.4, fontweight='bold', ha='left', va='center')

ax.set_xlim(-0.6, 622.6)
ax.set_ylim(0, 16)
ax.set_xticks([0, 100, 200, 300, 400, 500, 600])
ax.set_yticks(np.arange(0, 17, 2))
ax.tick_params(length=0, labelsize=16, labelcolor='#666666')
ax.tick_params(axis='y', pad=7)
ax.tick_params(axis='x', pad=10)
ax.grid(True, ls=(0, (5, 3)), color='#dddddd', lw=0.9)
ax.set_axisbelow(True)
for s in ['top', 'right']:
    ax.spines[s].set_visible(False)
for s in ['left', 'bottom']:
    ax.spines[s].set_color('#999999')
    ax.spines[s].set_linewidth(1.0)

fig.text(fx(18), fy(356), 'New deaths (per 1M)', rotation=90, fontsize=12, color='#222222',
         ha='center', va='center')
fig.text(fx(527), fy(684), 'Days since total confirmed deaths reached 0.1 per million', fontsize=12,
         color='#222222', ha='center', va='center')
fig.text(fx(72), fy(625), 'Mar 3, 2020', fontsize=8.5, color='#888888', ha='left', va='center',
         bbox=dict(facecolor='white', edgecolor='none', alpha=0.75, pad=0.5))

# legend
for i, (name, col, tcol) in enumerate(zip(legend_names, legend_colors, legend_text_colors)):
    yc = 30 + 26 * i
    fig.add_artist(Rectangle((fx(1077), fy(yc + 7)), fx(14), 14 / H, transform=fig.transFigure,
                             facecolor=col, edgecolor='none'))
    fig.text(fx(1099), fy(yc), name, fontsize=13.3, color=tcol, ha='left', va='center')

fig.add_artist(Line2D([fx(1077), fx(1213)], [fy(205), fy(205)], color='#dddddd', lw=1,
                      transform=fig.transFigure))
for j, (a, b) in enumerate([('Mar', 'Sep'), ('1,', '19,'), ('2020', '2021')]):
    yy = 228 + 25 * j
    fig.text(fx(1077), fy(yy), a, fontsize=12.5, color='#333333', ha='left', va='center')
    fig.text(fx(1217), fy(yy), b, fontsize=12.5, color='#333333', ha='right', va='center')
fig.add_artist(Line2D([fx(1125), fx(1178)], [fy(243), fy(243)], color='#666666', lw=1,
                      transform=fig.transFigure))
fig.add_artist(Line2D([fx(1125), fx(1140), fx(1155)], [fy(243)] * 3, color='#666666', lw=0,
                      marker='o', markersize=3.2, transform=fig.transFigure))
fig.add_artist(Line2D([fx(1180)], [fy(243)], color='#666666', lw=0, marker='>', markersize=5,
                      transform=fig.transFigure))

fig.savefig('out.png', dpi=100)
